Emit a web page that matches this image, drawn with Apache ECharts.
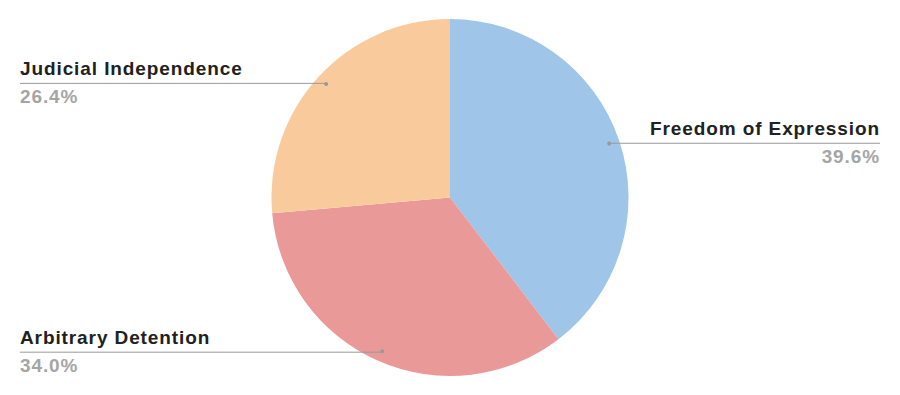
<!DOCTYPE html>
<html>
<head>
<meta charset="utf-8">
<script src="https://cdn.jsdelivr.net/npm/echarts@6/dist/echarts.min.js"></script>
<style>
html,body{margin:0;padding:0;background:#fff;}
#main{width:900px;height:395px;}
#main svg text{letter-spacing:0.9px;}
</style>
</head>
<body>
<div id="main"></div>
<script>
const categories = ['Freedom of Expression', 'Arbitrary Detention', 'Judicial Independence'];
const values = [39.6, 34.0, 26.4];
const colors = ['#9fc5e8', '#ea9999', '#f9cb9c'];

const chart = echarts.init(document.getElementById('main'), null, {renderer: 'svg'});
const FONT = '"Liberation Sans", Arial, sans-serif';
const startPts = [];

const option = {
  backgroundColor: '#ffffff',
  animation: false,
  series: [
    {
      type: 'pie',
      z: 1,
      center: ['50%', 197.5],
      radius: 178.5,
      startAngle: 90,
      clockwise: true,
      silent: true,
      label: {show: false},
      labelLine: {show: false},
      data: categories.map((c, i) => ({name: c, value: values[i], itemStyle: {color: colors[i]}}))
    },
    {
      type: 'pie',
      z: 5,
      center: ['50%', 197.5],
      radius: 168,
      startAngle: 90,
      clockwise: true,
      silent: true,
      itemStyle: {color: 'transparent'},
      label: {
        show: true,
        alignTo: 'edge',
        edgeDistance: 20,
        formatter: p => '{n|' + p.name + '}\n{v|' + p.value.toFixed(1) + '%}',
        rich: {
          n: {fontFamily: FONT, fontWeight: 'bold', fontSize: 19, color: '#212121', lineHeight: 26},
          v: {fontFamily: FONT, fontWeight: 'bold', fontSize: 19, color: '#a5a5a5', lineHeight: 29}
        }
      },
      labelLine: {
        show: true,
        length: 1,
        length2: 10,
        smooth: false,
        lineStyle: {color: '#999999', width: 1}
      },
      labelLayout: function (params) {
        const pts = params.labelLinePoints;
        if (!pts) return {};
        startPts[params.dataIndex] = pts[0].slice();
        const r = params.labelRect;
        const isLeft = r.x + r.width / 2 < chart.getWidth() / 2;
        const endX = isLeft ? r.x : r.x + r.width;
        const last = pts[pts.length - 1];
        return {labelLinePoints: [pts[0], pts[1], [endX, last[1]]]};
      },
      data: categories.map((c, i) => ({name: c, value: values[i]}))
    }
  ]
};
chart.setOption(option);
chart.setOption({
  graphic: startPts.filter(Boolean).map(p => ({
    type: 'circle', z: 100, silent: true,
    shape: {cx: p[0], cy: p[1], r: 2},
    style: {fill: '#999999'}
  }))
});
</script>
</body>
</html>
